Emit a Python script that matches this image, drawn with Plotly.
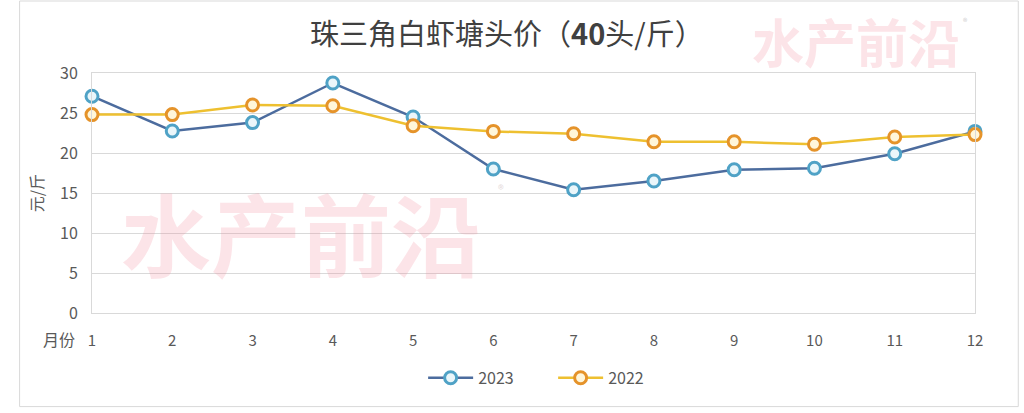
import plotly.graph_objects as go

months = list(range(1, 13))
month_labels = [str(m) for m in months]
price_2023 = [27.1, 22.75, 23.8, 28.75, 24.5, 18.0, 15.4, 16.5, 17.9, 18.1, 19.9, 22.7]
price_2022 = [24.8, 24.8, 26.0, 25.9, 23.4, 22.7, 22.4, 21.4, 21.4, 21.1, 22.0, 22.3]
y_ticks = [0, 5, 10, 15, 20, 25, 30]

FONT = "Noto Sans CJK SC"

fig = go.Figure()
fig.add_trace(go.Scatter(
    x=months, y=price_2023, name="2023", mode="lines+markers",
    line=dict(color="#4C6C9E", width=2.5),
    marker=dict(symbol="circle", size=12, color="#EAF6FA",
                line=dict(color="#4FA2C6", width=3)),
    cliponaxis=False,
))
fig.add_trace(go.Scatter(
    x=months, y=price_2022, name="2022", mode="lines+markers",
    line=dict(color="#EEC030", width=2.5),
    marker=dict(symbol="circle", size=12, color="#FFF6DA",
                line=dict(color="#E5932A", width=3)),
    cliponaxis=False,
))

fig.update_layout(
    width=1024, height=413,
    margin=dict(l=92, r=49, t=73, b=100),
    paper_bgcolor="white", plot_bgcolor="white",
    font=dict(family=FONT, color="#595959", size=14),
    title=dict(
        text="珠三角白虾塘头价（<b>40</b>头/斤）",
        x=0.495, xanchor="center", y=0.915, yanchor="middle",
        font=dict(family=FONT, size=29, color="#404040"),
    ),
    showlegend=True,
    legend=dict(orientation="h", x=0.375, xanchor="left", y=-0.27, yanchor="middle",
                font=dict(family=FONT, size=16, color="#595959"),
                itemwidth=45, entrywidth=70, entrywidthmode="pixels", tracegroupgap=0),
    xaxis=dict(
        range=[1, 12], tickvals=months, ticktext=month_labels,
        showgrid=False, zeroline=False,
        showline=True, linecolor="#D9D9D9", linewidth=1, mirror=True,
        ticks="", ticklabelstandoff=14,
        tickfont=dict(family=FONT, size=15, color="#595959"),
    ),
    yaxis=dict(
        range=[0, 30], tickvals=y_ticks,
        showgrid=True, gridcolor="#D9D9D9", gridwidth=1,
        zeroline=False,
        showline=True, linecolor="#D9D9D9", linewidth=1, mirror=True,
        ticks="", ticklabelstandoff=10,
        tickfont=dict(family=FONT, size=16, color="#595959"),
        title=dict(text="元/斤", font=dict(family=FONT, size=16, color="#595959"), standoff=12),
    ),
)

# watermarks
fig.add_annotation(text="<b>水产前沿</b>", xref="x", yref="y", x=3.6, y=10.2,
                   showarrow=False, font=dict(family=FONT, size=90, color="rgba(240,130,150,0.22)"))
fig.add_annotation(text="®", xref="x", yref="y", x=6.1, y=15.6, showarrow=False,
                   font=dict(family=FONT, size=12, color="rgba(200,180,180,0.5)"))
fig.add_annotation(text="<b>水产前沿</b>", xref="paper", yref="paper", x=0.865, y=1.135,
                   xanchor="center", yanchor="middle", showarrow=False,
                   font=dict(family=FONT, size=52, color="rgba(240,130,150,0.22)"))
fig.add_annotation(text="®", xref="paper", yref="paper", x=0.993, y=1.25, showarrow=False,
                   font=dict(family=FONT, size=9, color="rgba(190,190,190,0.8)"))

# x axis label "月份"
fig.add_annotation(text="月份", xref="paper", yref="paper", x=-0.037, y=-0.11,
                   xanchor="center", yanchor="middle", showarrow=False,
                   font=dict(family=FONT, size=16, color="#595959"))

# outer frame
fig.add_shape(type="rect", xref="paper", yref="paper", x0=-0.082, x1=1.049, y0=-0.39, y1=1.3,
              line=dict(color="#D9D9D9", width=1))

fig.write_html("out.html")
